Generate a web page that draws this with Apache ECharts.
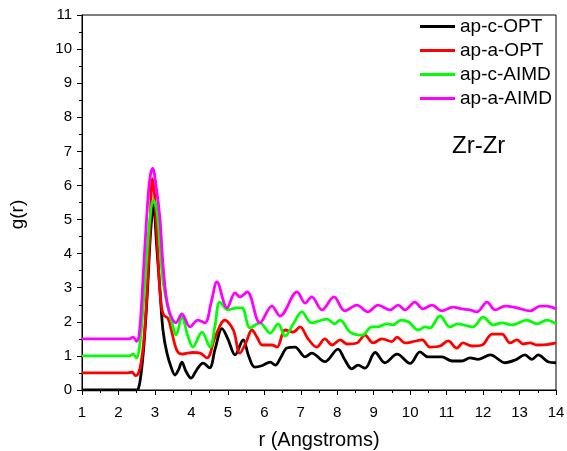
<!DOCTYPE html>
<html>
<head>
<meta charset="utf-8">
<script src="https://cdn.jsdelivr.net/npm/echarts@6/dist/echarts.min.js"></script>
<style>
html,body{margin:0;padding:0;background:#fff;}
#c{width:567px;height:451px;}
</style>
</head>
<body>
<div id="c"></div>
<script>
var seriesNames = ['ap-c-OPT', 'ap-a-OPT', 'ap-c-AIMD', 'ap-a-AIMD'];
var xTicks = [1,2,3,4,5,6,7,8,9,10,11,12,13,14];
var yTicks = [0,1,2,3,4,5,6,7,8,9,10,11];

var apcOPT = [[1,0],[2,0],[2.45,0],[2.54,0.03],[2.61,0.4],[2.68,1.08],[2.75,2.1],[2.81,3.2],[2.88,4.6],[2.96,5.43],[3.05,4.2],[3.14,2.9],[3.22,1.76],[3.33,1.08],[3.47,0.59],[3.55,0.44],[3.65,0.6],[3.74,0.82],[3.85,0.55],[3.99,0.35],[4.15,0.6],[4.32,0.79],[4.5,0.65],[4.65,1.2],[4.84,1.8],[5.0,1.5],[5.2,1.03],[5.42,1.47],[5.57,1.0],[5.74,0.67],[5.95,0.72],[6.16,0.82],[6.3,0.73],[6.45,0.95],[6.62,1.23],[6.84,1.26],[7.12,0.97],[7.3,1.08],[7.66,0.83],[8.02,1.2],[8.2,0.9],[8.4,0.62],[8.57,0.73],[8.76,0.64],[9.04,1.1],[9.31,0.8],[9.64,1.05],[10.0,0.78],[10.27,1.12],[10.49,0.97],[10.87,0.97],[11.15,0.85],[11.42,0.85],[11.64,0.94],[11.87,0.9],[12.2,1.03],[12.6,0.8],[12.88,0.88],[13.15,1.03],[13.34,0.9],[13.51,1.03],[13.78,0.83],[14,0.8]];

var apaOPT = [[1,0.5],[2.2,0.5],[2.37,0.52],[2.47,0.42],[2.55,0.5],[2.62,0.8],[2.7,1.5],[2.78,2.8],[2.86,4.6],[2.93,6.2],[3.0,5.6],[3.08,4.0],[3.16,2.6],[3.24,2.2],[3.36,2.1],[3.47,1.67],[3.6,1.17],[3.75,1.05],[3.88,1.08],[4.05,1.1],[4.24,1.08],[4.43,0.94],[4.65,1.55],[4.92,2.05],[5.15,1.76],[5.33,1.08],[5.5,1.4],[5.66,1.76],[5.8,1.55],[5.94,1.32],[6.21,1.32],[6.35,1.26],[6.57,1.76],[6.79,1.7],[6.98,1.85],[7.2,1.5],[7.44,1.26],[7.66,1.5],[7.86,1.32],[8.08,1.47],[8.27,1.35],[8.54,1.38],[8.76,1.61],[8.98,1.38],[9.23,1.5],[9.5,1.42],[9.64,1.55],[9.86,1.38],[10.05,1.41],[10.33,1.47],[10.54,1.26],[10.82,1.29],[11.04,1.44],[11.28,1.23],[11.45,1.38],[11.7,1.29],[11.97,1.32],[12.25,1.64],[12.52,1.64],[12.74,1.38],[12.93,1.47],[13.1,1.35],[13.29,1.38],[13.48,1.32],[13.75,1.33],[14,1.38]];

var apcAIMD = [[1,1.0],[2.3,1.0],[2.4,1.05],[2.5,0.94],[2.58,1.3],[2.66,2.2],[2.75,3.5],[2.85,4.9],[2.96,5.57],[3.05,5.3],[3.14,4.2],[3.22,3.2],[3.33,2.55],[3.47,1.97],[3.58,1.61],[3.74,2.14],[3.9,1.6],[4.04,1.26],[4.29,1.7],[4.51,1.26],[4.65,1.9],[4.78,2.58],[5.0,2.35],[5.25,2.41],[5.39,2.41],[5.61,1.82],[5.88,1.97],[6.16,1.67],[6.38,1.94],[6.57,1.58],[6.8,1.95],[7.03,2.29],[7.3,1.97],[7.72,2.08],[7.93,1.94],[8.08,2.05],[8.35,1.7],[8.68,1.61],[8.95,1.85],[9.09,1.85],[9.36,1.94],[9.53,1.91],[9.75,2.05],[9.95,2.0],[10.22,1.76],[10.41,1.85],[10.54,1.82],[10.82,2.17],[11.09,1.85],[11.31,1.94],[11.72,1.85],[12.0,2.14],[12.28,1.91],[12.52,1.97],[12.79,1.91],[13.2,2.05],[13.48,1.94],[13.75,2.05],[14,1.94]];

var apaAIMD = [[1,1.5],[2.3,1.5],[2.4,1.55],[2.5,1.43],[2.58,1.75],[2.67,3.2],[2.77,5.0],[2.86,6.2],[2.94,6.5],[3.03,6.0],[3.14,5.0],[3.22,3.7],[3.36,2.43],[3.58,1.97],[3.74,2.23],[3.96,1.85],[4.18,2.05],[4.37,1.97],[4.55,2.6],[4.7,3.17],[4.98,2.41],[5.2,2.85],[5.33,2.73],[5.53,2.88],[5.88,1.97],[6.21,2.46],[6.43,2.17],[6.9,2.88],[7.12,2.55],[7.3,2.73],[7.58,2.35],[7.91,2.73],[8.21,2.32],[8.54,2.49],[8.84,2.29],[9.12,2.49],[9.45,2.35],[9.67,2.49],[9.86,2.35],[10.13,2.58],[10.35,2.38],[10.6,2.49],[10.87,2.32],[11.17,2.43],[11.42,2.38],[11.64,2.35],[11.83,2.29],[12.11,2.58],[12.33,2.35],[12.6,2.46],[12.93,2.41],[13.29,2.32],[13.56,2.46],[13.75,2.46],[14,2.38]];

var colors = ['#000000', '#ff0000', '#00ff00', '#ff00ff'];
var allData = [apcOPT, apaOPT, apcAIMD, apaAIMD];
var FONT = 'Arial, "Liberation Sans", sans-serif';

var chart = echarts.init(document.getElementById('c'), null, {renderer: 'canvas'});
chart.setOption({
  animation: false,
  backgroundColor: '#fff',
  grid: {left: 82, right: 11, top: 15, bottom: 61, show: true, borderColor: '#000', borderWidth: 1,
         containLabel: false, outerBoundsMode: 'none'},
  legend: {
    orient: 'vertical', left: 420, top: 17, padding: 0, itemWidth: 35, itemHeight: 3, itemGap: 5,
    icon: 'rect',
    textStyle: {fontFamily: FONT, fontSize: 19, color: '#000', lineHeight: 19},
    data: seriesNames
  },
  xAxis: {
    type: 'value', min: 1, max: 14, interval: 1,
    name: 'r (Angstroms)', nameLocation: 'middle', nameGap: 40,
    nameTextStyle: {fontFamily: FONT, fontSize: 20, color: '#000'},
    axisLine: {lineStyle: {color: '#000', width: 1}},
    axisTick: {show: true, length: 5, lineStyle: {color: '#000', width: 1}},
    minorTick: {show: true, splitNumber: 2, length: 3, lineStyle: {color: '#000'}},
    axisLabel: {fontFamily: FONT, fontSize: 15, color: '#000', margin: 15,
      formatter: function(v){ return xTicks.indexOf(v) >= 0 ? String(v) : ''; }},
    splitLine: {show: false}
  },
  yAxis: {
    type: 'value', min: 0, max: 11, interval: 1,
    name: 'g(r)', nameLocation: 'middle', nameGap: 55, nameRotate: 90,
    nameTextStyle: {fontFamily: FONT, fontSize: 19, color: '#000', padding: [0, 24, 0, 0]},
    axisLine: {show: true, lineStyle: {color: '#000', width: 1}},
    axisTick: {show: true, length: 5, lineStyle: {color: '#000', width: 1}},
    minorTick: {show: true, splitNumber: 2, length: 3, lineStyle: {color: '#000'}},
    axisLabel: {fontFamily: FONT, fontSize: 15, color: '#000', margin: 10,
      formatter: function(v){ return yTicks.indexOf(v) >= 0 ? String(v) : ''; }},
    splitLine: {show: false}
  },
  graphic: [{
    type: 'text', left: 452, top: 134,
    style: {text: 'Zr-Zr', font: '24px ' + FONT, fill: '#000'}
  }],
  series: seriesNames.map(function(n, i){
    return {
      name: n, type: 'line', data: allData[i], showSymbol: false, symbol: 'none',
      smooth: 0.35, color: colors[i], z: 2 + i,
      lineStyle: {color: colors[i], width: 2.8}
    };
  })
});
</script>
</body>
</html>
